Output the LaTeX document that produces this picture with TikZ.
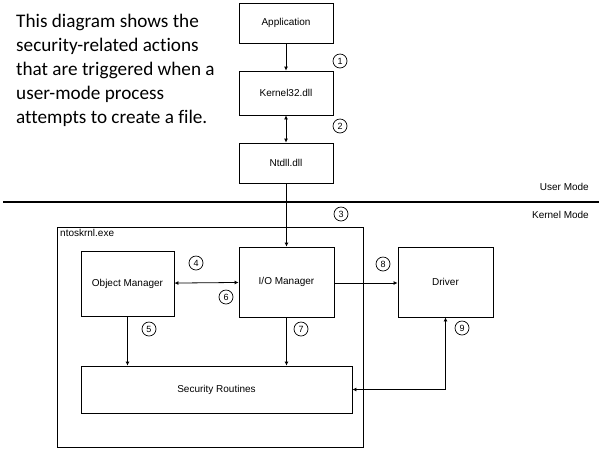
\documentclass[tikz,border=0pt]{standalone}
\usepackage{fontspec}
\setmainfont{Liberation Sans}
\newfontfamily\notefont{Carlito}[Ligatures=NoCommon]
\usetikzlibrary{arrows.meta}

\tikzset{
  box/.style={draw, line width=0.8pt, inner sep=0pt, font=\fontsize{10}{12}\selectfont},
  num/.style={draw, circle, line width=0.7pt, inner sep=0pt, minimum size=14pt, font=\fontsize{9}{10}\selectfont},
  link/.style={line width=0.8pt, -{Latex[length=4pt,width=4pt]}},
  dlink/.style={line width=0.8pt, {Latex[length=4pt,width=4pt]}-{Latex[length=4pt,width=4pt]}},
  modetxt/.style={anchor=east, inner sep=0pt, font=\fontsize{10}{12}\selectfont}
}

\begin{document}
\begin{tikzpicture}[x=1pt, y=-1pt]
    \useasboundingbox (0,0) rectangle (599,451);

    % Texto explicativo
    \node[anchor=north west, inner sep=0pt, align=left, font=\notefont\fontsize{19.2}{24}\selectfont] (note) at (16,13.5)
      {This diagram shows the\\security-related actions\\that are triggered when a\\user-mode process\\attempts to create a file.};

    % Modo usuario
    \node[box, minimum width=94pt, minimum height=40pt] (app) at (286,23) {Application};
    \node[box, minimum width=94pt, minimum height=44pt] (k32) at (286,93) {Kernel32.dll};
    \node[box, minimum width=94pt, minimum height=40pt] (ntdll) at (286,163) {Ntdll.dll};

    % Divisoria
    \draw[line width=2.2pt] (3,202) -- (599,202);
    \node[modetxt] (user) at (589,187) {User Mode};
    \node[modetxt] (kern) at (589,215) {Kernel Mode};

    % Nucleo
    \draw[line width=0.8pt] (57,227) rectangle (363,447);
    \node[anchor=north west, inner sep=0pt, font=\fontsize{10}{12}\selectfont] (ntos) at (60,229) {ntoskrnl.exe};
    \node[box, minimum width=93pt, minimum height=65pt] (om) at (127.5,283.5) {Object Manager};
    \node[box, minimum width=95pt, minimum height=70pt] (io) at (286.5,282) {I/O Manager};
    \node[box, minimum width=95pt, minimum height=70pt] (drv) at (445.5,282) {Driver};
    \node[box, minimum width=271pt, minimum height=47pt] (sec) at (216.5,389.5) {Security Routines};

    % Ligacoes
    \draw[link] (app) -- (k32);
    \draw[dlink] (k32) -- (ntdll);
    \draw[link] (ntdll.south -| io.north) -- (io.north);
    \draw[dlink] (om) -- (io);
    \draw[link] (io.east |- 0,283) -- (drv.west |- 0,283);
    \draw[link] (om.south) -- (om.south |- sec.north);
    \draw[link] (io.south) -- (io.south |- sec.north);
    \draw[dlink] (drv.south) |- (sec.east);

    % Numeros
    \node[num] (n1) at (340,61) {1};
    \node[num] (n2) at (340,126) {2};
    \node[num] (n3) at (341,214) {3};
    \node[num] (n4) at (196,263) {4};
    \node[num] (n5) at (149,329) {5};
    \node[num] (n6) at (226,297) {6};
    \node[num] (n7) at (301,329) {7};
    \node[num] (n8) at (383,264) {8};
    \node[num] (n9) at (462,328) {9};
\end{tikzpicture}
\end{document}
